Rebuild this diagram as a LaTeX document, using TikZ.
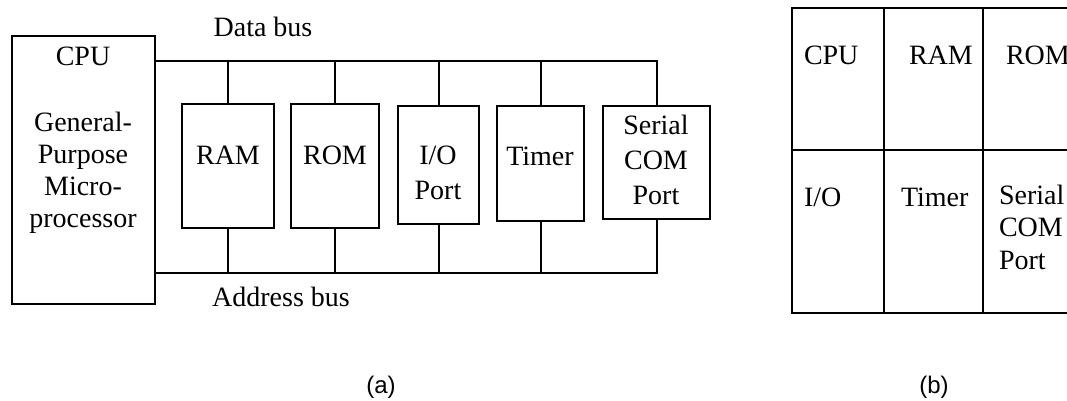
\documentclass[tikz,border=0pt]{standalone}
\usepackage{fontspec}
\setmainfont{Liberation Serif}
\newfontfamily\capfont{Liberation Sans}
\tikzset{
  blk/.style={draw, line width=1pt, inner sep=0pt},
  txt/.style={inner sep=0pt, font=\fontsize{14}{17.5}\selectfont, align=center},
  cell/.style={inner sep=0pt, anchor=west, font=\fontsize{14}{16.25}\selectfont, align=left},
  sublbl/.style={inner sep=0pt, font=\capfont\fontsize{12}{14}\selectfont}
}
\begin{document}
\begin{tikzpicture}[x=0.5pt,y=-0.5pt,line width=1pt]
\useasboundingbox (0,0) rectangle (1067,401);
\clip (0,0) rectangle (1067,401);
% (a) bus system
\node[blk, minimum width=71.5pt, minimum height=134pt] (cpu) at (83.5,170) {};
\node[blk, minimum width=46pt, minimum height=62pt] (ram) at (228,166) {};
\node[blk, minimum width=44pt, minimum height=62pt] (rom) at (335,166) {};
\node[blk, minimum width=40.5pt, minimum height=59pt] (io) at (438.5,165) {};
\node[blk, minimum width=43.5pt, minimum height=57.5pt] (timer) at (540.5,163.5) {};
\node[blk, minimum width=53.5pt, minimum height=56.5pt] (serial) at (656.5,162.5) {};
\node[txt] (t1) at (83,56) {CPU};
\node[txt, font=\fontsize{14}{16}\selectfont] (t2) at (83,173) {General-\\Purpose\\Micro-\\processor};
\node[txt] (t3) at (228,155) {RAM};
\node[txt] (t4) at (335,155) {ROM};
\node[txt] (t5) at (438,173) {I/O\\Port};
\node[txt] (t6) at (540,156) {Timer};
\node[txt] (t7) at (656,160) {Serial\\COM\\Port};
\coordinate (dbus) at (0,61);
\coordinate (abus) at (0,273);
\draw (cpu.east |- dbus) -| (serial.north);
\draw (cpu.east |- abus) -| (serial.south);
\foreach \n in {ram,rom,io,timer} {
  \draw (\n.north) -- (\n.north |- dbus);
  \draw (\n.south) -- (\n.south |- abus);
}
\node[txt] (db) at (263,27) {Data bus};
\node[txt] (ab) at (281,297) {Address bus};
\node[sublbl] (ca) at (381,387) {(a)};
% (b) single chip
\draw (792,8) rectangle (1100,313);
\draw (884,8) -- (884,313);
\draw (983,8) -- (983,313);
\draw (792,150) -- (1100,150);
\node[cell] (c1) at (803,55) {CPU};
\node[cell] (c2) at (908,55) {RAM};
\node[cell] (c3) at (1005,55) {ROM};
\node[cell] (c4) at (803,197) {I/O};
\node[cell] (c5) at (900,197) {Timer};
\node[cell] (c6) at (998,227) {Serial\\COM\\Port};
\node[sublbl] (cb) at (934,387) {(b)};
\end{tikzpicture}
\end{document}
